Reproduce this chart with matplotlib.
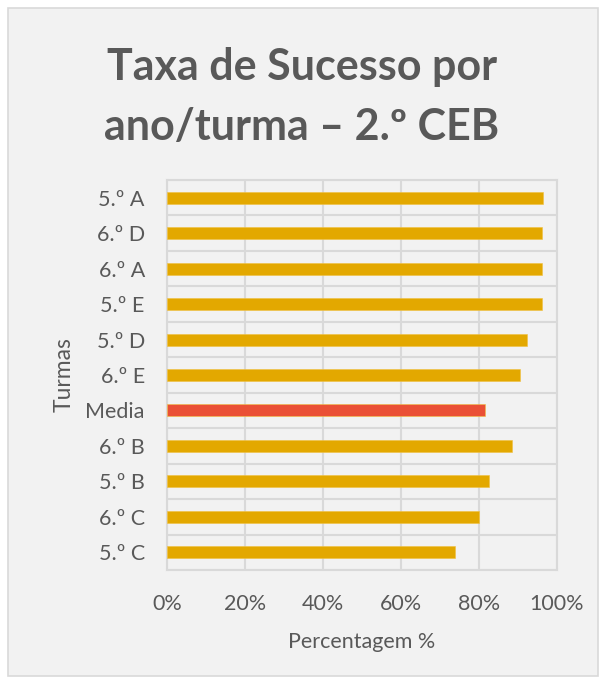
import matplotlib.pyplot as plt
from matplotlib.patches import Rectangle
from matplotlib.ticker import PercentFormatter

# Dados (de cima para baixo)
turmas = ['5.º A', '6.º D', '6.º A', '5.º E', '5.º D', '6.º E', 'Media', '6.º B', '5.º B', '6.º C', '5.º C']
taxas = [96.3, 96.2, 96.2, 96.2, 92.3, 90.5, 81.5, 88.5, 82.6, 80.0, 73.9]
cores = ['#E3A800' if t != 'Media' else '#EA5035' for t in turmas]

plt.rcParams['font.family'] = ['Lato', 'DejaVu Sans']
W, H = 604, 683
fig = plt.figure(figsize=(W / 100, H / 100), dpi=100, facecolor='white')

# Área do gráfico (fundo cinzento com borda)
fig.patches.append(Rectangle((8 / W, 1 - 676 / H), 590 / W, 668 / H, transform=fig.transFigure,
                             facecolor='#f2f2f2', edgecolor='#d9d9d9', linewidth=1.2, zorder=-10))

ax = fig.add_axes([167 / W, (H - 570) / H, 390 / W, 390 / H])
ax.set_facecolor('#f2f2f2')
y = range(len(turmas))
ax.barh(y, taxas, height=0.34, color=cores, edgecolor='#f0c040', linewidth=0.4, zorder=3)
ax.set_ylim(len(turmas) - 0.5, -0.5)
ax.set_xlim(0, 100)
ax.set_xticks(range(0, 101, 20))
ax.xaxis.set_major_formatter(PercentFormatter(decimals=0))
ax.set_yticks(list(y))
ax.set_yticklabels(turmas)
ax.set_yticks([i - 0.5 for i in range(len(turmas) + 1)], minor=True)
ax.grid(axis='x', color='#d9d9d9', linewidth=1.5, zorder=0)
ax.grid(axis='y', which='minor', color='#d9d9d9', linewidth=1.5, zorder=0)
ax.tick_params(which='both', length=0, labelsize=15.5, colors='#595959')
ax.tick_params(axis='y', pad=16)
ax.tick_params(axis='x', pad=17)
for s in ax.spines.values():
    s.set_color('#d9d9d9')
    s.set_linewidth(1.5)

ax.set_xlabel('Percentagem %', fontsize=15.5, color='#595959', labelpad=13)
ax.set_ylabel('Turmas', fontsize=16.5, color='#595959', labelpad=8)

fig.text(0.5, 1 - 97 / H, 'Taxa de Sucesso por\nano/turma – 2.º CEB', ha='center', va='center',
         fontsize=31, fontweight='bold', color='#595959', linespacing=1.6)

plt.savefig('out.png', dpi=100, facecolor='white')
